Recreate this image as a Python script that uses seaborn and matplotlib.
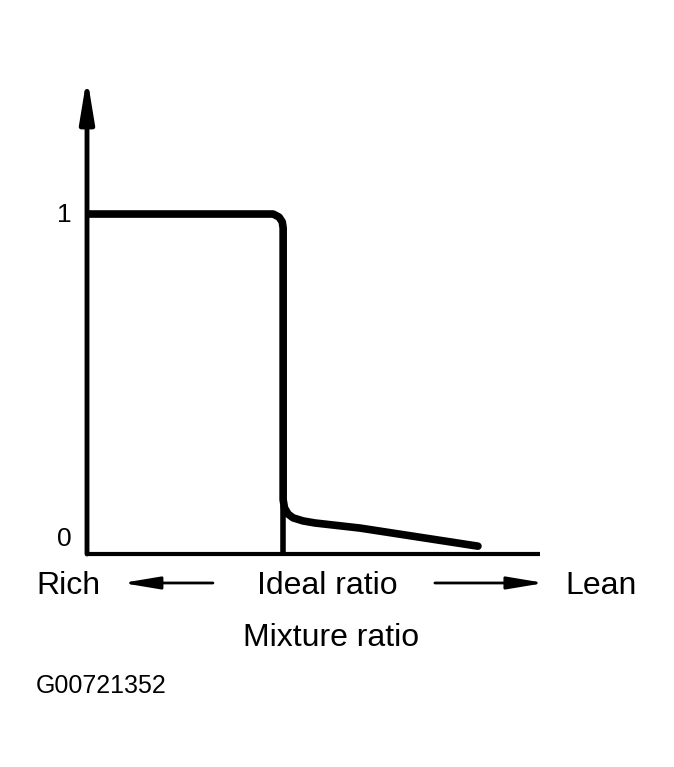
#oxygen sensor output vs mixture ratio - recreating the reference diagram

#importing required libraries
import pandas as pd
import matplotlib.pyplot as plt
import seaborn as sns
from matplotlib.transforms import ScaledTranslation

#curve values (x = mixture ratio axis, y = sensor output)
mixture_x = [0.0, 4.11, 4.24, 4.31, 4.33, 4.33, 4.36, 4.44, 4.55, 4.77, 5.03, 6.03, 8.63]
output_y = [0.997, 0.997, 0.988, 0.974, 0.956, 0.159, 0.135, 0.117, 0.106, 0.097, 0.091, 0.076, 0.023]

#ideal ratio marker line
ideal_x = [4.33, 4.33]
ideal_y = [0.14, 0.0]

#tick labels and text
ytick_values = [0, 1]
ytick_labels = ["0", "1"]
x_labels = ["Rich", "Ideal ratio", "Lean"]
x_label_pos = [-0.42, 5.30, 11.35]
axis_title = "Mixture ratio"
figure_code = "G00721352"

df = pd.DataFrame({"mixture": mixture_x, "output": output_y})
df_ideal = pd.DataFrame({"mixture": ideal_x, "output": ideal_y})

sns.set_style("white")
plt.rcParams['font.family'] = ['Liberation Sans', 'DejaVu Sans']
plt.rcParams['text.color'] = 'black'
plt.rcParams['ytick.color'] = 'black'

fig = plt.figure(figsize = (6.74, 7.67), dpi = 100)
ax = fig.add_axes([87/674, 1 - 554/767, 453/674, (554 - 76.6)/767])

#plotting the sensor curve
sns.lineplot(x = "mixture", y = "output", data = df, sort = False, estimator = None,
             color = "black", linewidth = 5.5, ax = ax, solid_joinstyle = "round", solid_capstyle = "round")
sns.lineplot(x = "mixture", y = "output", data = df_ideal, sort = False, estimator = None,
             color = "black", linewidth = 4, ax = ax)

ax.set_xlim(0, 10)
ax.set_ylim(0, 1.4)
for s in ax.spines.values():
    s.set_visible(False)

#axis lines
ax.plot([0, 10], [0, 0], color = "black", linewidth = 3, solid_capstyle = "butt", clip_on = False)
ax.annotate("", xy = (0, 1.4), xytext = (0, 0), annotation_clip = False,
            arrowprops = dict(arrowstyle = "-|>,head_length=1.7,head_width=0.28", mutation_scale = 15,
                              color = "black", lw = 3.5, shrinkA = 0, shrinkB = 0))

#ticks
ax.set_xticks([])
ax.set_yticks(ytick_values)
ax.set_yticklabels(ytick_labels, fontsize = 19, color = "black")
ax.tick_params(axis = "y", length = 0, pad = 11)
for lab in ax.get_yticklabels():
    if lab.get_text() == "0":
        lab.set_transform(lab.get_transform() + ScaledTranslation(0, 17/100, fig.dpi_scale_trans))
ax.set_xlabel("")
ax.set_ylabel("")

#bottom labels and arrows
for lab, xp in zip(x_labels, x_label_pos):
    ax.text(xp, -0.095, lab, fontsize = 23, ha = "center", va = "center", clip_on = False, color = "black")
arrow_style = dict(arrowstyle = "-|>,head_length=1.5,head_width=0.25", mutation_scale = 15,
                   color = "black", lw = 2, shrinkA = 0, shrinkB = 0)
ax.annotate("", xy = (0.78, -0.085), xytext = (2.78, -0.085), annotation_clip = False, arrowprops = arrow_style)
ax.annotate("", xy = (10.1, -0.085), xytext = (7.68, -0.085), annotation_clip = False, arrowprops = arrow_style)
ax.text(5.39, -0.245, axis_title, fontsize = 23, ha = "center", va = "center", clip_on = False, color = "black")

fig.text(36/674, 1 - 686/767, figure_code, fontsize = 18, ha = "left", va = "center", color = "black")

plt.savefig("out.png", dpi = 100)
